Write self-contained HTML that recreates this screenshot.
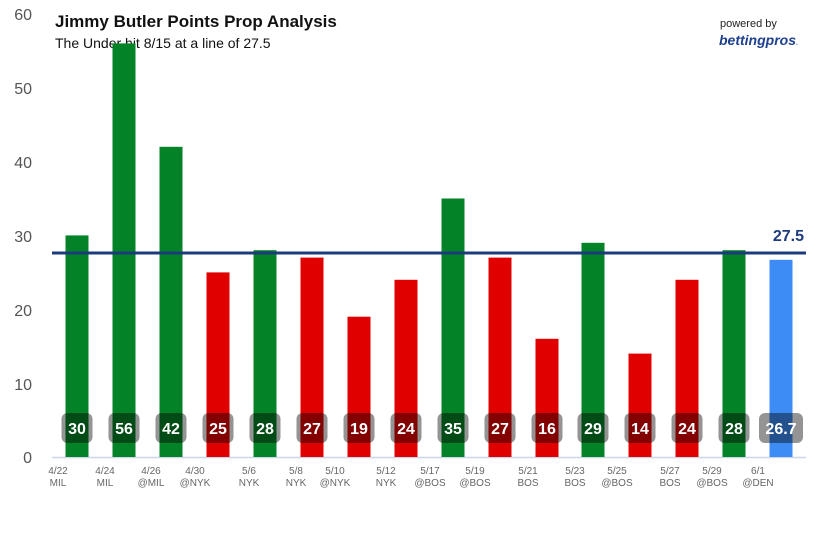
<!DOCTYPE html>
<html><head><style>
body{margin:0;background:#fff;}
svg text{font-family:"Liberation Sans","DejaVu Sans",sans-serif;}
</style></head><body>
<svg width="818" height="545" xmlns="http://www.w3.org/2000/svg">
<g font-size="16" fill="#555" text-anchor="end">
<text x="32" y="20">60</text><text x="32" y="94">50</text><text x="32" y="168">40</text>
<text x="32" y="242">30</text><text x="32" y="316">20</text><text x="32" y="390">10</text><text x="32" y="463">0</text>
</g>
<text x="55" y="27" font-size="17" font-weight="bold" fill="#111">Jimmy Butler Points Prop Analysis</text>
<text x="55" y="48" font-size="14" fill="#111">The Under hit 8/15 at a line of 27.5</text>
<text x="720" y="27" font-size="11" fill="#222">powered by</text>
<text x="719" y="45" font-size="14" font-weight="bold" font-style="italic" fill="#1d3f8f">bettingpros<tspan fill="#6a8fd0" font-size="8">.</tspan></text>
<line x1="52" y1="457.5" x2="806" y2="457.5" stroke="#ccd6eb" stroke-width="1.5"/>
<g>
<rect x="65.5" y="235.4" width="23" height="221.6" fill="#038227"/>
<rect x="112.5" y="43.4" width="23" height="413.6" fill="#038227"/>
<rect x="159.5" y="146.8" width="23" height="310.2" fill="#038227"/>
<rect x="206.5" y="272.4" width="23" height="184.6" fill="#e00000"/>
<rect x="253.5" y="250.2" width="23" height="206.8" fill="#038227"/>
<rect x="300.5" y="257.6" width="23" height="199.4" fill="#e00000"/>
<rect x="347.5" y="316.7" width="23" height="140.3" fill="#e00000"/>
<rect x="394.5" y="279.8" width="23" height="177.2" fill="#e00000"/>
<rect x="441.5" y="198.5" width="23" height="258.5" fill="#038227"/>
<rect x="488.5" y="257.6" width="23" height="199.4" fill="#e00000"/>
<rect x="535.5" y="338.8" width="23" height="118.2" fill="#e00000"/>
<rect x="581.5" y="242.8" width="23" height="214.2" fill="#038227"/>
<rect x="628.5" y="353.6" width="23" height="103.4" fill="#e00000"/>
<rect x="675.5" y="279.8" width="23" height="177.2" fill="#e00000"/>
<rect x="722.5" y="250.2" width="23" height="206.8" fill="#038227"/>
<rect x="769.5" y="259.8" width="23" height="197.2" fill="#3d8cf5"/>
</g>
<g fill="rgba(0,0,0,0.42)">
<rect x="61.5" y="413" width="31" height="30" rx="6"/>
<rect x="108.5" y="413" width="31" height="30" rx="6"/>
<rect x="155.5" y="413" width="31" height="30" rx="6"/>
<rect x="202.5" y="413" width="31" height="30" rx="6"/>
<rect x="249.5" y="413" width="31" height="30" rx="6"/>
<rect x="296.5" y="413" width="31" height="30" rx="6"/>
<rect x="343.5" y="413" width="31" height="30" rx="6"/>
<rect x="390.5" y="413" width="31" height="30" rx="6"/>
<rect x="437.5" y="413" width="31" height="30" rx="6"/>
<rect x="484.5" y="413" width="31" height="30" rx="6"/>
<rect x="531.5" y="413" width="31" height="30" rx="6"/>
<rect x="577.5" y="413" width="31" height="30" rx="6"/>
<rect x="624.5" y="413" width="31" height="30" rx="6"/>
<rect x="671.5" y="413" width="31" height="30" rx="6"/>
<rect x="718.5" y="413" width="31" height="30" rx="6"/>
<rect x="759" y="413" width="44" height="30" rx="6"/>
</g>
<g font-size="16" font-weight="bold" fill="#fff" text-anchor="middle">
<text x="77" y="434">30</text><text x="124" y="434">56</text><text x="171" y="434">42</text><text x="218" y="434">25</text>
<text x="265" y="434">28</text><text x="312" y="434">27</text><text x="359" y="434">19</text><text x="406" y="434">24</text>
<text x="453" y="434">35</text><text x="500" y="434">27</text><text x="547" y="434">16</text><text x="593" y="434">29</text>
<text x="640" y="434">14</text><text x="687" y="434">24</text><text x="734" y="434">28</text><text x="781" y="434">26.7</text>
</g>
<g font-size="10" fill="#666" text-anchor="middle">
<text x="58" y="474">4/22</text><text x="58" y="486">MIL</text>
<text x="105" y="474">4/24</text><text x="105" y="486">MIL</text>
<text x="151" y="474">4/26</text><text x="151" y="486">@MIL</text>
<text x="195" y="474">4/30</text><text x="195" y="486">@NYK</text>
<text x="249" y="474">5/6</text><text x="249" y="486">NYK</text>
<text x="296" y="474">5/8</text><text x="296" y="486">NYK</text>
<text x="335" y="474">5/10</text><text x="335" y="486">@NYK</text>
<text x="386" y="474">5/12</text><text x="386" y="486">NYK</text>
<text x="430" y="474">5/17</text><text x="430" y="486">@BOS</text>
<text x="475" y="474">5/19</text><text x="475" y="486">@BOS</text>
<text x="528" y="474">5/21</text><text x="528" y="486">BOS</text>
<text x="575" y="474">5/23</text><text x="575" y="486">BOS</text>
<text x="617" y="474">5/25</text><text x="617" y="486">@BOS</text>
<text x="670" y="474">5/27</text><text x="670" y="486">BOS</text>
<text x="712" y="474">5/29</text><text x="712" y="486">@BOS</text>
<text x="758" y="474">6/1</text><text x="758" y="486">@DEN</text>
</g>
<line x1="52" y1="253" x2="806" y2="253" stroke="#1c3b7c" stroke-width="3"/>
<text x="804" y="241" font-size="16" font-weight="bold" fill="#1c3b7c" text-anchor="end">27.5</text>
</svg>
</body></html>
